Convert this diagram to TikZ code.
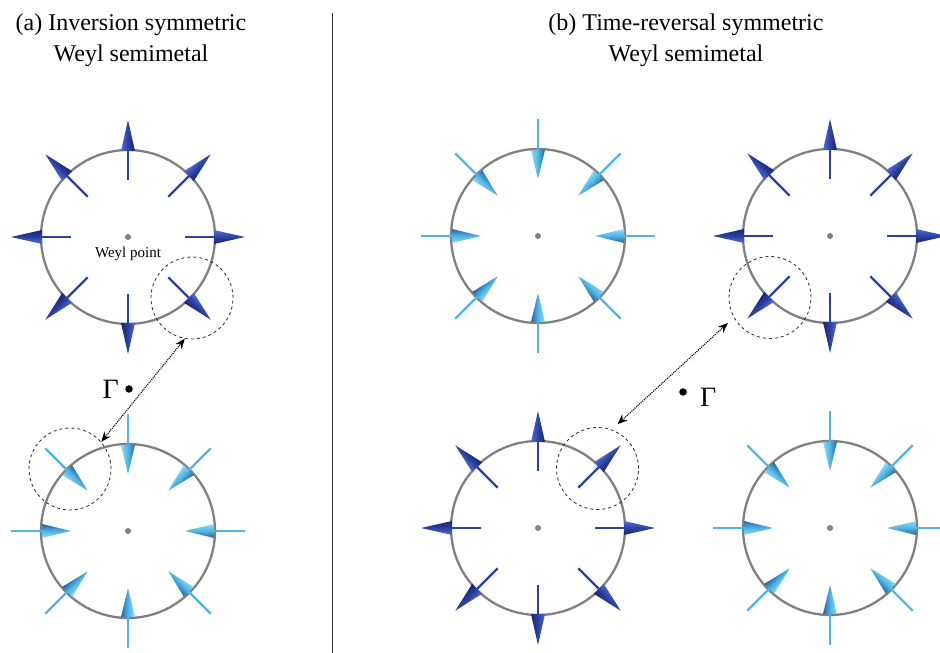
\documentclass[tikz,border=0pt]{standalone}
\usepackage{fontspec}
\setmainfont{Liberation Serif}
\usetikzlibrary{arrows.meta,positioning}

\definecolor{grigiocerchio}{RGB}{128,128,128}
\definecolor{bluasta}{RGB}{45,65,160}
\definecolor{blulucido}{RGB}{80,110,210}
\definecolor{bluombra}{RGB}{25,35,115}
\definecolor{azzurroasta}{RGB}{80,180,228}
\definecolor{azzurrolucido}{RGB}{140,220,245}
\definecolor{azzurroombra}{RGB}{35,100,165}

% Frecce verso l'esterno (blu scuro)
\newcommand{\uscenti}[1]{%
  \foreach \a in {0,45,...,315}{%
    \draw[asta scura] (#1) ++(\a:57) -- ++(\a:31);
    \begin{scope}[transform canvas={shift={(#1)}, rotate=\a}]
      \shade[cono scuro] (86,7) -- (117,0) -- (86,-7) -- cycle;
    \end{scope}
  }%
}
% Frecce verso l'interno (azzurre)
\newcommand{\entranti}[1]{%
  \foreach \a in {0,45,...,315}{%
    \draw[asta chiara] (#1) ++(\a:117) -- ++(\a:-42);
    \begin{scope}[transform canvas={shift={(#1)}, rotate=\a}]
      \shade[cono chiaro] (86,7) -- (57,0) -- (86,-7) -- cycle;
    \end{scope}
  }%
}

\begin{document}
\begin{tikzpicture}[x=1pt, y=1pt]
  % Stili
  \tikzset{
    sfera/.style={circle, draw=grigiocerchio, line width=2.3pt, minimum size=174pt, inner sep=0pt},
    zona/.style={circle, draw=black!85, dashed, line width=0.8pt, minimum size=82pt, inner sep=0pt},
    centro/.style={circle, fill=grigiocerchio, minimum size=6pt, inner sep=0pt},
    puntogamma/.style={circle, fill=black, minimum size=7.5pt, inner sep=0pt},
    asta scura/.style={draw=bluasta, line width=2.3pt},
    asta chiara/.style={draw=azzurroasta, line width=2.3pt},
    cono scuro/.style={top color=blulucido, bottom color=bluombra, middle color=bluasta},
    cono chiaro/.style={top color=azzurrolucido, bottom color=azzurroombra, middle color=azzurroasta},
    legame/.style={densely dotted, line width=1.1pt, {Stealth[length=10pt,width=8pt]}-{Stealth[length=10pt,width=8pt]}},
    titolo/.style={align=center, inner sep=0pt, font=\fontsize{24}{31}\selectfont},
    gamma/.style={inner sep=0pt, font=\fontsize{28}{30}\selectfont}
  }

  \useasboundingbox (0,0) rectangle (940,653);

  % Titoli
  \node[titolo, anchor=north] (ta) at (131,639) {(a) Inversion symmetric\\Weyl semimetal};
  \node[titolo, anchor=north] (tb) at (686,639) {(b) Time-reversal symmetric\\Weyl semimetal};

  % Separatore
  \coordinate (sepA) at (332,640);
  \coordinate (sepB) at (332,0);
  \draw[line width=0.9pt, black!80] (sepA) -- (sepB);

  % Sfere attorno ai punti di Weyl
  \node[sfera] (s1) at (128,416) {};
  \node[sfera] (s2) at (128,122) {};
  \node[sfera] (s3) at (538,417) {};
  \node[sfera] (s4) at (830,417) {};
  \node[sfera] (s5) at (538,125) {};
  \node[sfera] (s6) at (830,125) {};

  % Punti di Weyl
  \node[centro] (p1) at (s1) {};
  \node[centro] (p2) at (s2) {};
  \node[centro] (p3) at (s3) {};
  \node[centro] (p4) at (s4) {};
  \node[centro] (p5) at (s5) {};
  \node[centro] (p6) at (s6) {};
  \node[below=7pt of p1, inner sep=0pt, font=\fontsize{15}{18}\selectfont] (wp) {Weyl point};

  % Frecce
  \uscenti{s1.center}
  \entranti{s2.center}
  \entranti{s3.center}
  \uscenti{s4.center}
  \uscenti{s5.center}
  \entranti{s6.center}

  % Punto Gamma
  \node[puntogamma] (g1) at (129,264) {};
  \node[gamma, left=6pt of g1] (lg1) {Γ};
  \node[puntogamma] (g2) at (683,261) {};
  \node[gamma, right=13pt of g2, yshift=-5pt] (lg2) {Γ};

  % Zone tratteggiate e collegamenti
  \node[zona] (d1) at (192,355) {};
  \node[zona] (d2) at (70,184) {};
  \node[zona] (d3) at (770,355.5) {};
  \node[zona] (d4) at (597.5,184.5) {};
  \draw[legame] (d2.41) -- (d1.260);
  \draw[legame, shorten <=8pt, shorten >=8pt] (d4.70) -- (d3.209);
\end{tikzpicture}
\end{document}
